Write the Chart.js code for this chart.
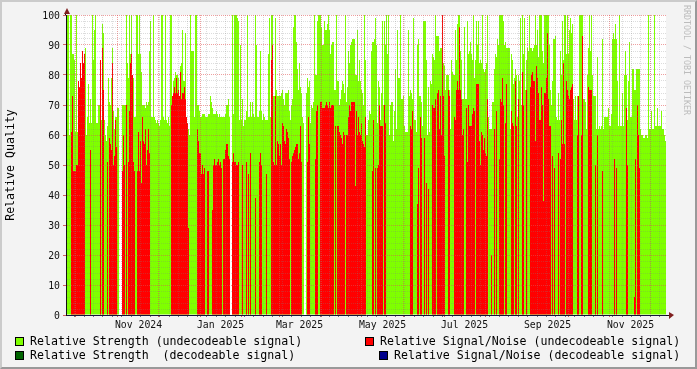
<!DOCTYPE html>
<html>
<head>
<meta charset="utf-8">
<title>Relative Quality</title>
<script src="https://cdn.jsdelivr.net/npm/chart.js@4"></script>
<style>
    html, body { margin: 0; padding: 0; background: #f3f3f3; }
    #wrap { position: relative; width: 697px; height: 369px; overflow: hidden; }
    canvas { position: absolute; left: 0; top: 0; }
    #frame {
        position: absolute; left: 0; top: 0; width: 697px; height: 369px; box-sizing: border-box;
        border-style: solid; border-width: 2px; border-color: #cbcbcb #999 #999 #cbcbcb;
        pointer-events: none;
    }
    .item {
        position: absolute; font: 11.6px/14px "DejaVu Sans Mono", monospace; color: #000;
        white-space: pre; padding-left: 15px;
    }
    .item i {
        position: absolute; left: 0; top: 3px; width: 7px; height: 7px; border: 1px solid #000;
    }
    #credit {
        position: absolute; left: 682px; top: 5px; writing-mode: vertical-rl;
        font: 8.3px/10px "DejaVu Sans Mono", monospace; color: #bcbcbc; white-space: pre;
    }
</style>
</head>
<body>
<div id="wrap">
    <canvas id="quality-chart" width="697" height="369"></canvas>
    <div id="legend"></div>
    <div id="credit">RRDTOOL / TOBI OETIKER</div>
    <div id="frame"></div>
</div>
<script>
const strengthUndecoded = [
    100,100,100,60,100,100,87,87,85,61,100,61,78,76,84,79,88,84,87,89,
    60,66,77,64,72,64,100,85,95,100,64,64,70,70,85,65,97,94,65,60,
    58,63,79,71,70,79,89,68,62,66,66,69,69,0,0,0,70,70,70,70,
    100,84,79,100,87,100,79,79,66,66,100,100,87,100,87,81,70,70,70,69,
    71,70,71,88,98,66,66,100,66,65,64,65,64,63,65,100,100,66,65,100,
    65,64,66,63,100,100,70,78,79,81,80,80,79,73,83,84,95,78,78,94,
    66,62,62,60,100,88,88,88,66,100,100,70,70,68,66,66,67,67,67,66,
    66,66,67,67,73,71,69,67,67,67,68,67,66,67,66,66,66,66,66,67,
    70,70,72,66,0,0,100,67,100,100,100,99,98,65,90,65,72,63,65,65,
    68,100,66,66,71,66,71,67,66,100,90,66,66,68,88,68,65,67,66,65,
    65,65,87,99,66,100,100,73,73,99,75,73,73,73,73,74,75,72,70,74,
    74,74,75,68,65,70,72,96,100,100,91,82,75,84,76,74,66,64,0,0,
    74,79,76,78,64,70,69,71,100,80,80,98,100,100,100,96,90,90,98,95,
    95,97,100,95,87,90,91,91,75,75,100,78,78,70,72,75,78,77,74,100,
    71,76,88,84,90,91,92,92,92,80,80,95,78,85,78,75,74,70,100,85,
    60,60,65,68,67,88,91,91,92,99,90,64,78,76,65,74,98,70,98,90,
    100,87,100,60,70,71,71,58,68,82,62,95,79,79,100,72,72,73,63,61,
    61,61,95,73,75,74,72,99,65,65,61,90,92,73,73,71,63,98,98,98,
    85,60,76,61,78,77,87,86,85,100,93,93,93,88,89,89,100,84,83,75,
    80,80,80,75,62,85,81,80,80,95,85,97,100,100,88,85,72,72,96,72,
    72,98,87,88,91,87,85,100,79,85,98,90,98,84,85,84,100,82,81,82,
    84,100,66,62,62,62,71,71,82,87,86,92,90,100,100,100,100,98,90,91,
    89,89,89,89,62,87,85,77,79,82,80,66,80,78,99,70,100,87,99,75,
    85,89,88,100,89,89,88,89,90,100,90,95,86,100,100,100,88,84,100,100,
    100,100,100,90,75,70,78,92,92,93,66,65,74,65,88,80,98,85,100,100,
    87,100,87,95,99,94,97,72,65,73,65,73,73,100,100,100,100,72,72,71,
    62,80,89,100,88,100,80,73,73,73,62,86,62,63,62,63,92,62,66,66,
    66,66,69,63,63,67,92,94,92,97,92,78,63,100,63,63,74,63,80,88,
    80,65,78,91,66,66,82,82,75,75,82,82,82,82,62,60,60,59,59,60,
    60,59,100,62,62,68,62,62,100,63,63,69,63,63,63,68,62,62,60,58
];
const snrUndecoded = [
    0,0,0,0,0,61,73,48,48,48,50,50,78,76,84,79,88,84,87,0,
    0,0,0,0,55,0,0,0,0,0,0,0,0,0,85,0,89,75,0,0,
    0,51,0,59,57,55,84,50,53,65,56,0,0,0,0,0,48,60,50,0,
    70,0,51,68,84,87,80,51,48,0,0,48,61,48,58,44,66,58,57,62,
    50,55,62,54,0,0,0,0,0,0,0,0,0,0,0,0,0,0,0,0,
    0,0,0,0,0,70,73,74,76,74,79,74,75,73,81,72,74,74,76,72,
    66,64,29,0,0,0,0,0,0,0,0,62,58,54,54,47,50,47,49,0,
    0,48,48,0,0,0,35,50,52,50,50,51,52,50,51,49,0,52,52,55,
    57,57,53,52,0,0,51,54,51,51,50,50,51,0,0,0,50,0,0,0,
    51,0,47,0,54,0,0,0,0,39,0,0,0,51,54,50,0,0,0,0,
    47,0,0,0,0,85,90,51,50,73,50,58,57,53,57,50,64,63,58,57,
    62,61,59,52,0,51,53,54,55,56,57,57,52,54,63,51,0,0,0,0,
    0,51,66,57,0,0,0,0,0,52,68,70,0,0,71,71,69,69,69,70,
    71,70,69,71,69,70,70,70,0,63,0,63,63,61,60,59,57,61,60,0,
    60,60,66,70,68,71,71,71,71,43,68,60,66,61,60,64,58,57,56,66,
    0,0,0,0,0,0,48,65,0,49,0,49,50,70,63,63,63,0,70,64,
    0,0,0,0,0,0,0,0,0,0,0,0,0,0,0,0,0,0,0,0,
    0,0,0,0,63,62,68,0,0,0,0,37,49,0,66,59,0,0,59,0,
    44,0,42,0,0,0,70,69,69,72,0,74,75,62,73,60,100,73,53,0,
    0,0,75,73,0,0,0,0,66,65,75,78,75,96,75,72,60,62,0,0,
    69,51,70,63,63,63,67,69,68,0,77,77,77,58,50,61,60,55,59,54,
    53,72,0,0,0,20,0,0,62,0,68,0,0,52,72,71,79,70,0,64,
    77,0,0,0,0,68,64,63,0,78,63,0,72,0,0,0,81,70,0,0,
    75,0,0,0,76,80,81,78,78,58,83,79,74,65,65,76,70,38,74,74,
    79,94,72,63,63,0,53,0,49,0,0,0,54,0,52,65,57,84,57,0,
    78,75,73,72,75,76,77,0,0,0,0,60,73,0,0,60,93,0,0,0,
    0,0,76,75,75,75,0,0,0,50,0,60,0,0,0,0,48,0,0,0,
    0,0,0,0,0,0,0,0,52,0,49,0,0,0,0,0,0,0,0,0,
    69,50,0,0,0,0,0,0,6,52,0,70,60,49,0,0,0,0,0,0,
    0,0,0,0,0,0,0,0,0,0,0,0,0,0,0,0,0,0,0,0
];
// nothing decoded shows up at this scale, the two series only exist in the legend
const strengthDecoded = [];
const snrDecoded = [];

const seriesNames = [
    "Relative Strength (undecodeable signal)",
    "Relative Signal/Noise (undecodeable signal)",
    "Relative Strength  (decodeable signal)",
    "Relative Signal/Noise (decodeable signal)"
];
const seriesColors = ["#7fff00", "#ff0000", "#006400", "#00008b"];
const yTickLabels = [0, 10, 20, 30, 40, 50, 60, 70, 80, 90, 100];
const xTickLabels = ["Nov 2024", "Jan 2025", "Mar 2025", "May 2025", "Jul 2025", "Sep 2025", "Nov 2025"];

const startTime = Date.UTC(2024, 8, 24, 8);
const stepMs = 64080 * 1000;
const categories = strengthUndecoded.map((v, i) => new Date(startTime + i * stepMs));

function monthLabel(d) {
    const s = d.toLocaleDateString("en-US", { month: "short", year: "numeric", timeZone: "UTC" });
    return s;
}

// one tick per week and month start, plus an invisible one mid month for the label
function buildMarks() {
    const marks = [];
    categories.forEach((d, i) => {
        if (i === 0) return;
        const p = categories[i - 1];
        if (d.getUTCMonth() !== p.getUTCMonth()) marks.push({ value: i, kind: "month" });
        if (d.getUTCDay() === 1 && p.getUTCDay() !== 1) marks.push({ value: i, kind: "week" });
        if (d.getUTCDate() >= 16 && p.getUTCDate() < 16 && xTickLabels.includes(monthLabel(d))) {
            marks.push({ value: i, kind: "label", text: monthLabel(d) });
        }
    });
    return marks;
}

const minorGrid = "rgba(128,128,128,0.28)";
const majorGrid = "rgba(224,80,80,0.55)";

const plotBackground = {
    id: "plotBackground",
    beforeDraw(chart) {
        const a = chart.chartArea;
        chart.ctx.fillStyle = "#fff";
        chart.ctx.fillRect(a.left, a.top, a.right - a.left, a.bottom - a.top);
    },
    afterDraw(chart) {
        // the little arrows rrdtool puts on the axis ends
        const a = chart.chartArea;
        const ctx = chart.ctx;
        ctx.fillStyle = "#111";
        ctx.fillRect(a.left - 1, a.top - 3, 1, 3);
        ctx.fillRect(a.right, a.bottom, 4, 1);
        ctx.fillStyle = "#7f1f1f";
        ctx.beginPath();
        ctx.moveTo(a.left + 1, a.top - 7);
        ctx.lineTo(a.left - 2, a.top - 1);
        ctx.lineTo(a.left + 4, a.top - 1);
        ctx.fill();
        ctx.beginPath();
        ctx.moveTo(a.right + 8, a.bottom);
        ctx.lineTo(a.right + 3, a.bottom - 3);
        ctx.lineTo(a.right + 3, a.bottom + 4);
        ctx.fill();
    }
};

function buildLegend() {
    const spots = [[15, 334], [365, 334], [15, 348], [379, 348]];
    const legend = document.getElementById("legend");
    seriesNames.forEach((name, i) => {
        const el = document.createElement("div");
        el.className = "item";
        el.style.left = spots[i][0] + "px";
        el.style.top = spots[i][1] + "px";
        el.innerHTML = `<i style="background:${seriesColors[i]}"></i>`;
        el.appendChild(document.createTextNode(name));
        legend.appendChild(el);
    });
}

function start() {
    buildLegend();
    const marks = buildMarks();
    const barDefaults = { barPercentage: 1, categoryPercentage: 1, borderWidth: 0, inflateAmount: 0, grouped: false };
    new Chart(document.getElementById("quality-chart"), {
        type: "bar",
        data: {
            labels: categories,
            datasets: [
                { label: seriesNames[0], data: strengthUndecoded, backgroundColor: seriesColors[0], order: 4, ...barDefaults },
                { label: seriesNames[1], data: snrUndecoded, backgroundColor: seriesColors[1], order: 3, ...barDefaults },
                { label: seriesNames[2], data: strengthDecoded, backgroundColor: seriesColors[2], order: 2, ...barDefaults },
                { label: seriesNames[3], data: snrDecoded, backgroundColor: seriesColors[3], order: 1, ...barDefaults }
            ]
        },
        options: {
            responsive: false,
            animation: false,
            layout: { padding: { top: 15, right: 31, left: 0, bottom: 0 } },
            plugins: { legend: { display: false }, title: { display: false }, tooltip: { enabled: false } },
            scales: {
                x: {
                    offset: true,
                    afterFit(scale) { scale.height = 54; },
                    afterBuildTicks(scale) { scale.ticks = marks.map(m => ({ ...m })); },
                    grid: {
                        z: 1,
                        offset: false,
                        tickLength: 2,
                        color(ctx) {
                            const kind = ctx.tick && ctx.tick.kind;
                            if (kind === "month") return majorGrid;
                            return kind === "week" ? minorGrid : "rgba(0,0,0,0)";
                        },
                        tickColor(ctx) {
                            const kind = ctx.tick && ctx.tick.kind;
                            if (kind === "month") return "#d06060";
                            return kind === "week" ? "#777" : "rgba(0,0,0,0)";
                        }
                    },
                    border: { z: 2, color: "#14143c", dash: [1, 1] },
                    ticks: {
                        autoSkip: false,
                        maxRotation: 0,
                        minRotation: 0,
                        padding: 3,
                        color: "#111",
                        font: { family: "'DejaVu Sans Mono'", size: 9.8 },
                        callback(value, index, ticks) { return ticks[index].text || ""; }
                    }
                },
                y: {
                    min: 0,
                    max: 100,
                    afterFit(scale) { scale.width = 66; },
                    afterBuildTicks(scale) {
                        scale.ticks = [];
                        for (let v = 0; v <= 100; v += 2) scale.ticks.push({ value: v });
                    },
                    title: {
                        display: true,
                        text: "Relative Quality",
                        color: "#000",
                        padding: { top: 4, bottom: 0 },
                        font: { family: "'DejaVu Sans Mono'", size: 11.6, weight: "normal" }
                    },
                    grid: {
                        z: 1,
                        tickLength: 3,
                        color(ctx) { return ctx.tick && yTickLabels.includes(ctx.tick.value) ? majorGrid : minorGrid; },
                        tickColor(ctx) { return ctx.tick && yTickLabels.includes(ctx.tick.value) ? "#d06060" : "rgba(0,0,0,0)"; }
                    },
                    border: { z: 2, color: "#111", dash: [1, 1] },
                    ticks: {
                        autoSkip: false,
                        padding: 3,
                        labelOffset: 1,
                        color: "#111",
                        font: { family: "'DejaVu Sans Mono'", size: 9.8 },
                        callback(value) { return yTickLabels.includes(value) ? String(value) : ""; }
                    }
                }
            }
        },
        plugins: [plotBackground]
    });
}

window.addEventListener('load', start, false);
</script>
</body>
</html>
